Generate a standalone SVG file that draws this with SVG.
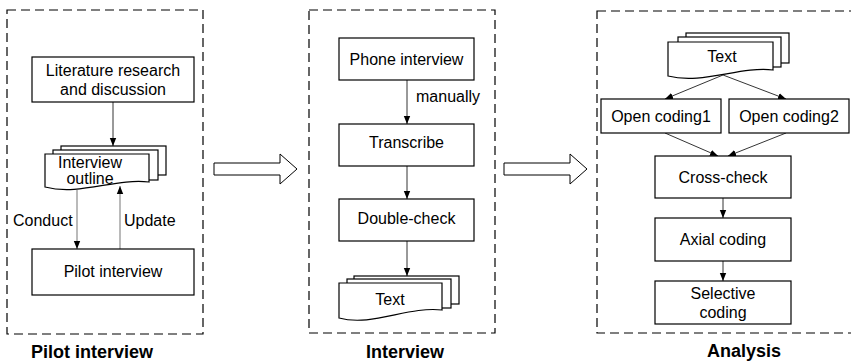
<svg xmlns="http://www.w3.org/2000/svg" width="851" height="362" viewBox="0 0 851 362">
<defs>
<style>
.panel{fill:none;stroke:#000;stroke-width:1.2;stroke-dasharray:9 5}
.box{fill:#fff;stroke:#000;stroke-width:1.2}
.t{font-family:"Liberation Sans",Arial,sans-serif;font-size:16px;fill:#000}
.c{text-anchor:middle}
.title{font-family:"Liberation Sans",Arial,sans-serif;font-size:18px;font-weight:bold;fill:#000;text-anchor:middle}
.ln{fill:none;stroke:#000;stroke-width:0.8}
.gl{fill:none;stroke:#8c8c8c;stroke-width:1.2}
.big{fill:#fff;stroke:#000;stroke-width:1}
</style>
<marker id="ah" viewBox="0 0 10 10" refX="10" refY="5" markerWidth="8" markerHeight="8" markerUnits="userSpaceOnUse" orient="auto">
<path d="M0,1 L10,5 L0,9 z" fill="#000"/>
</marker>
</defs>
<rect fill="#fff" width="851" height="362"/>

<g id="panels">
<rect class="panel" x="7" y="10" width="196" height="324"/>
<rect class="panel" x="309" y="10" width="186" height="323"/>
<rect class="panel" x="597" y="11" width="270" height="322"/>
<text class="title" x="92" y="358">Pilot interview</text>
<text class="title" x="405" y="358">Interview</text>
<text class="title" x="744" y="357">Analysis</text>
</g>

<g id="bigarrows">
<path class="big" d="M214,163 H280 V154 L297,169 L280,184 V175 H214 Z"/>
<path class="big" d="M504,163 H570 V154 L587,169 L570,184 V175 H504 Z"/>
</g>

<g id="connectors">
<line class="ln" x1="113" y1="102" x2="113" y2="146" marker-end="url(#ah)"/>
<line class="gl" x1="77" y1="190" x2="77" y2="249" marker-end="url(#ah)"/>
<line class="gl" x1="120" y1="249" x2="120" y2="186" marker-end="url(#ah)"/>
<text class="t" x="13" y="226">Conduct</text>
<text class="t" x="124" y="226">Update</text>

<line class="ln" x1="407" y1="80" x2="407" y2="124" marker-end="url(#ah)"/>
<text class="t" x="416" y="102">manually</text>
<line class="ln" x1="407" y1="166" x2="407" y2="199" marker-end="url(#ah)"/>
<line class="ln" x1="407" y1="241" x2="407" y2="276" marker-end="url(#ah)"/>

<line class="ln" x1="723" y1="75" x2="665" y2="99" marker-end="url(#ah)"/>
<line class="ln" x1="723" y1="75" x2="786" y2="99" marker-end="url(#ah)"/>
<line class="ln" x1="665" y1="133" x2="718" y2="156" marker-end="url(#ah)"/>
<line class="ln" x1="786" y1="133" x2="728" y2="156" marker-end="url(#ah)"/>
<line class="ln" x1="723" y1="198" x2="723" y2="218" marker-end="url(#ah)"/>
<line class="ln" x1="723" y1="261" x2="723" y2="281" marker-end="url(#ah)"/>
</g>

<g id="literature">
<rect class="box" x="32" y="57" width="162" height="45"/>
<text class="t c" x="113" y="76">Literature research</text>
<text class="t c" x="113" y="95">and discussion</text>
</g>

<g id="outline">
<rect class="box" x="61" y="146" width="105" height="29"/>
<rect class="box" x="53" y="150" width="105" height="30"/>
<path class="box" d="M45,154 H149 V182 C115,178 80,196 45,187 Z"/>
<text class="t c" x="90" y="168">Interview</text>
<text class="t c" x="90" y="184">outline</text>
</g>

<g id="pilot">
<rect class="box" x="32" y="249" width="162" height="46"/>
<text class="t c" x="113" y="277">Pilot interview</text>
</g>

<g id="phone">
<rect class="box" x="339" y="38" width="135" height="42"/>
<text class="t c" x="406.5" y="65">Phone interview</text>
</g>

<g id="transcribe">
<rect class="box" x="339" y="124" width="135" height="42"/>
<text class="t c" x="406.5" y="148">Transcribe</text>
</g>

<g id="doublecheck">
<rect class="box" x="339" y="199" width="135" height="42"/>
<text class="t c" x="406.5" y="224">Double-check</text>
</g>

<g id="text1">
<rect class="box" x="354" y="276" width="105" height="28"/>
<rect class="box" x="347" y="279" width="104" height="29"/>
<path class="box" d="M339,283 H442 V310 C408,306 372,327 339,318 Z"/>
<text class="t c" x="390" y="305">Text</text>
</g>

<g id="text2">
<rect class="box" x="686" y="33" width="103" height="30"/>
<rect class="box" x="678" y="37" width="103" height="30"/>
<path class="box" d="M668,42 H773 V70 C740,66 702,85 668,76 Z"/>
<text class="t c" x="722" y="62">Text</text>
</g>

<g id="open1">
<rect class="box" x="601" y="99" width="120" height="34"/>
<text class="t c" x="661" y="122">Open coding1</text>
</g>

<g id="open2">
<rect class="box" x="729" y="99" width="120" height="34"/>
<text class="t c" x="789" y="122">Open coding2</text>
</g>

<g id="crosscheck">
<rect class="box" x="655" y="156" width="136" height="42"/>
<text class="t c" x="723" y="183">Cross-check</text>
</g>

<g id="axial">
<rect class="box" x="655" y="218" width="136" height="43"/>
<text class="t c" x="723" y="245">Axial coding</text>
</g>

<g id="selective">
<rect class="box" x="655" y="281" width="136" height="43"/>
<text class="t c" x="723" y="299">Selective</text>
<text class="t c" x="723" y="318">coding</text>
</g>
</svg>
